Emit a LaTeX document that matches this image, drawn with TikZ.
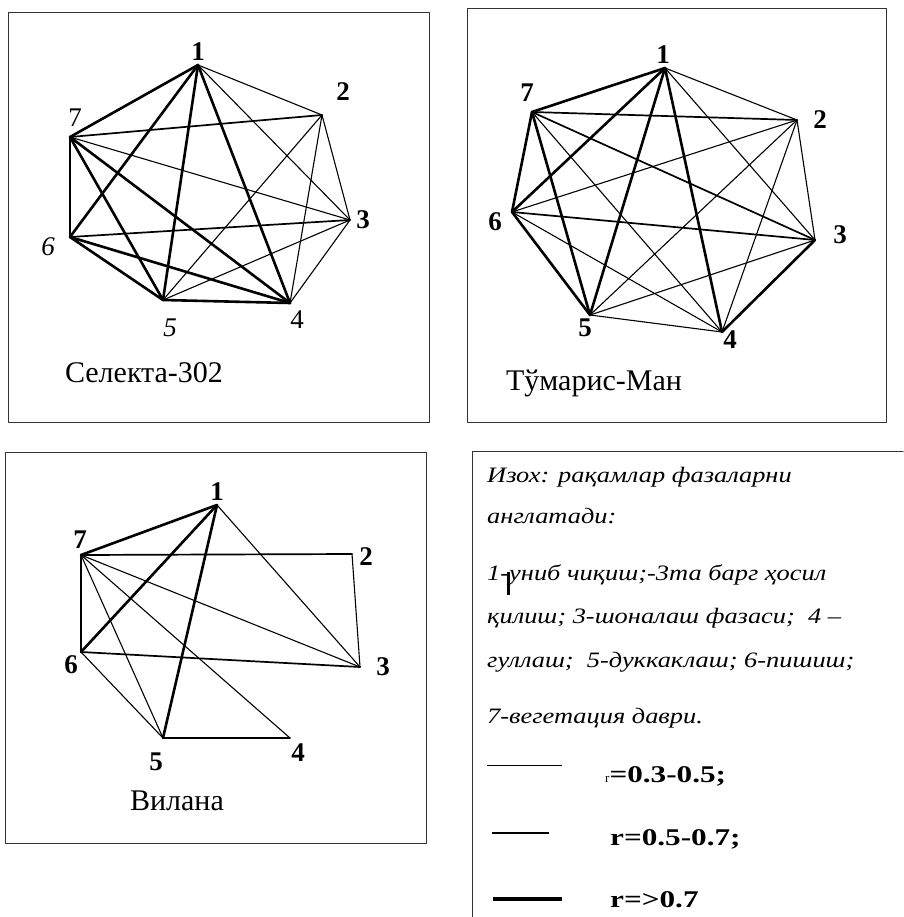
\documentclass[tikz,border=0pt]{standalone}
\usepackage{fontspec}
\setmainfont{Liberation Serif}
\newcommand\lgi[1]{\scalebox{1.2}[1]{\fontsize{22}{22}\selectfont\itshape #1}}
\newcommand\lgb[1]{\scalebox{1.3}[1]{\fontsize{24}{24}\selectfont\bfseries #1}}
\begin{document}
\begin{tikzpicture}[x=1pt,y=-1pt,line cap=round,line join=round,
  thn/.style={line width=1.1pt},
  mid/.style={line width=1.7pt},
  thk/.style={line width=2.6pt},
  frame/.style={draw=black!80,line width=1pt},
  num/.style={inner sep=0pt,font=\fontsize{27}{27}\selectfont\bfseries},
  numr/.style={inner sep=0pt,font=\fontsize{27}{27}\selectfont},
  numi/.style={inner sep=0pt,font=\fontsize{27}{27}\selectfont\itshape},
  vname/.style={inner sep=0pt,anchor=base,font=\fontsize{30}{30}\selectfont},
  ltxt/.style={inner sep=0pt,anchor=base west}]
\useasboundingbox (0,0) rectangle (903,917);
% ---------- frames
\draw[frame] (8,13) rectangle (429,422);
\draw[frame] (467,9) rectangle (886,422);
\draw[frame] (5,452) rectangle (426,843);
\draw[frame] (903,451) -- (472,451) -- (472,917);
% ---------- panel 1
\coordinate (a1) at (198,65);
\coordinate (a2) at (322,115);
\coordinate (a3) at (350,220);
\coordinate (a4) at (290,303);
\coordinate (a5) at (163,300);
\coordinate (a6) at (70,237);
\coordinate (a7) at (70,137);
\foreach \p/\q in {1/7,1/6,1/5,1/4,7/6,7/5,7/4,6/5,6/4,5/4}
  \draw[thk] (a\p) -- (a\q);
\foreach \p/\q in {7/2,6/3}
  \draw[mid] (a\p) -- (a\q);
\foreach \p/\q in {1/2,1/3,2/3,2/4,2/5,3/4,3/5,3/7}
  \draw[thn] (a\p) -- (a\q);
\node[num]  (la1) at (198,52) {1};
\node[num]  (la2) at (343,92) {2};
\node[num]  (la3) at (363,220) {3};
\node[numr] (la4) at (297,320) {4};
\node[numi] (la5) at (170,328) {5};
\node[numi] (la6) at (48,247) {6};
\node[numr] (la7) at (75,118) {7};
\node[vname] (va) at (144,382) {Селекта-302};
% ---------- panel 2
\coordinate (b1) at (665,68);
\coordinate (b2) at (797,120);
\coordinate (b3) at (815,240);
\coordinate (b4) at (722,332);
\coordinate (b5) at (590,315);
\coordinate (b6) at (512,212);
\coordinate (b7) at (532,112);
\foreach \p/\q in {1/7,1/6,1/5,1/4,7/6,7/5,6/5,3/4}
  \draw[thk] (b\p) -- (b\q);
\foreach \p/\q in {7/2,7/3,6/3}
  \draw[mid] (b\p) -- (b\q);
\foreach \p/\q in {1/2,1/3,2/3,2/4,2/5,2/6,3/5,4/5,4/6,4/7}
  \draw[thn] (b\p) -- (b\q);
\node[num] (lb1) at (663,55) {1};
\node[num] (lb2) at (820,120) {2};
\node[num] (lb3) at (840,235) {3};
\node[num] (lb4) at (730,340) {4};
\node[num] (lb5) at (585,328) {5};
\node[num] (lb6) at (495,222) {6};
\node[num] (lb7) at (527,93) {7};
\node[vname] (vb) at (594,390) {Тўмарис-Ман};
% ---------- panel 3
\coordinate (c1) at (217,505);
\coordinate (c2) at (352,554);
\coordinate (c3) at (360,667);
\coordinate (c4) at (290,738);
\coordinate (c5) at (163,738);
\coordinate (c6) at (81,652);
\coordinate (c7) at (81,555);
\foreach \p/\q in {1/7,1/6,1/5,7/6}
  \draw[thk] (c\p) -- (c\q);
\foreach \p/\q in {7/2,6/3,5/4}
  \draw[mid] (c\p) -- (c\q);
\foreach \p/\q in {1/3,2/3,7/3,7/5,7/4,6/5}
  \draw[thn] (c\p) -- (c\q);
\node[num] (lc1) at (217,492) {1};
\node[num] (lc2) at (366,557) {2};
\node[num] (lc3) at (383,667) {3};
\node[num] (lc4) at (298,753) {4};
\node[num] (lc5) at (156,762) {5};
\node[num] (lc6) at (71,665) {6};
\node[num] (lc7) at (80,540) {7};
\node[vname] (vc) at (177,810) {Вилана};
% ---------- legend
\node[ltxt] (t1) at (487,482) {\lgi{Изох: рақамлар фазаларни}};
\node[ltxt] (t2) at (487,523) {\lgi{англатади:}};
\node[ltxt] (t3) at (487,580) {\lgi{1-униб чиқиш;-3та барг ҳосил}};
\node[ltxt] (t4) at (487,623) {\lgi{қилиш; 3-шоналаш фазаси;\ \ 4 –}};
\node[ltxt] (t5) at (487,667) {\lgi{гуллаш;\ \ 5-дуккаклаш; 6-пишиш;}};
\node[ltxt] (t6) at (487,723) {\lgi{7-вегетация даври.}};
\coordinate (cur1) at (508,572);
\coordinate (cur2) at (508,595);
\draw[line width=3pt,line cap=butt] (cur1) -- (cur2);
\coordinate (l1a) at (487,765); \coordinate (l1b) at (562,765);
\coordinate (l2a) at (492,833); \coordinate (l2b) at (549,833);
\coordinate (l3a) at (493,899); \coordinate (l3b) at (562,899);
\draw[line width=1pt,line cap=butt] (l1a) -- (l1b);
\draw[line width=2.5pt,line cap=butt] (l2a) -- (l2b);
\draw[line width=4pt,line cap=butt] (l3a) -- (l3b);
\node[ltxt] (r1) at (605,782) {{\fontsize{13}{13}\selectfont r}\lgb{=0.3-0.5;}};
\node[ltxt] (r2) at (610,845) {\lgb{r=0.5-0.7;}};
\node[ltxt] (r3) at (610,907) {\lgb{r=>0.7}};
\end{tikzpicture}
\end{document}
